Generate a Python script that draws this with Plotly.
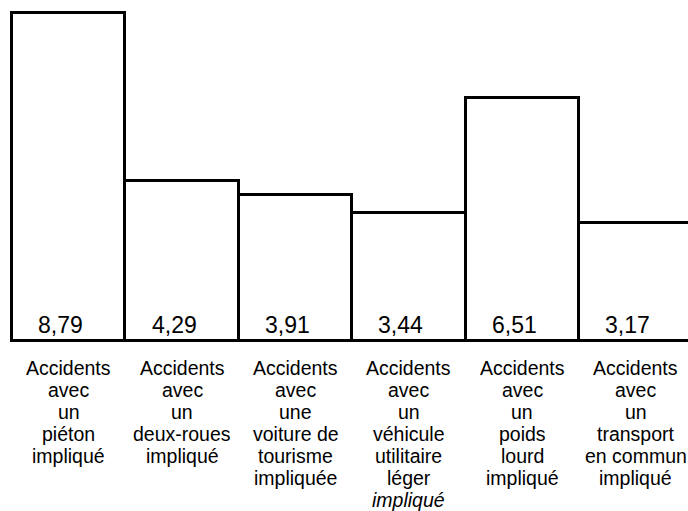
import plotly.graph_objects as go

# Accident categories (one label line per list entry) and their values
categories = [
    ["Accidents", "avec", "un", "piéton", "impliqué"],
    ["Accidents", "avec", "un", "deux-roues", "impliqué"],
    ["Accidents", "avec", "une", "voiture de", "tourisme", "impliquée"],
    ["Accidents", "avec", "un", "véhicule", "utilitaire", "léger", "<i>impliqué</i>"],
    ["Accidents", "avec", "un", "poids", "lourd", "impliqué"],
    ["Accidents", "avec", "un", "transport", "en commun", "impliqué"],
]
values = [8.79, 4.29, 3.91, 3.44, 6.51, 3.17]
value_labels = ["8,79", "4,29", "3,91", "3,44", "6,51", "3,17"]

positions = list(range(len(values)))

fig = go.Figure(
    go.Bar(
        x=positions,
        y=values,
        width=1.0,
        marker=dict(color="white", line=dict(color="black", width=3)),
        hoverinfo="skip",
    )
)

annotations = []
for i, lab in enumerate(value_labels):
    annotations.append(dict(
        x=positions[i], y=0, xref="x", yref="y",
        text=lab, showarrow=False,
        xanchor="center", yanchor="middle",
        xshift=-8, yshift=16,
        font=dict(family="Liberation Sans, Arial, sans-serif", size=23, color="black"),
    ))

for i, lines in enumerate(categories):
    for j, line in enumerate(lines):
        annotations.append(dict(
            x=positions[i], y=0, xref="x", yref="y",
            text=line, showarrow=False,
            xanchor="center", yanchor="middle",
            yshift=-27 - 22 * j,
            font=dict(family="Liberation Sans, Arial, sans-serif", size=19.5, color="black"),
        ))

fig.update_layout(
    width=688,
    height=511,
    margin=dict(l=0, r=0, t=0, b=0),
    paper_bgcolor="white",
    plot_bgcolor="white",
    showlegend=False,
    bargap=0,
    annotations=annotations,
    xaxis=dict(range=[-0.606, 5.461], visible=False, fixedrange=True),
    yaxis=dict(range=[-4.56, 9.147], visible=False, fixedrange=True),
)

fig.write_html("out.html")
